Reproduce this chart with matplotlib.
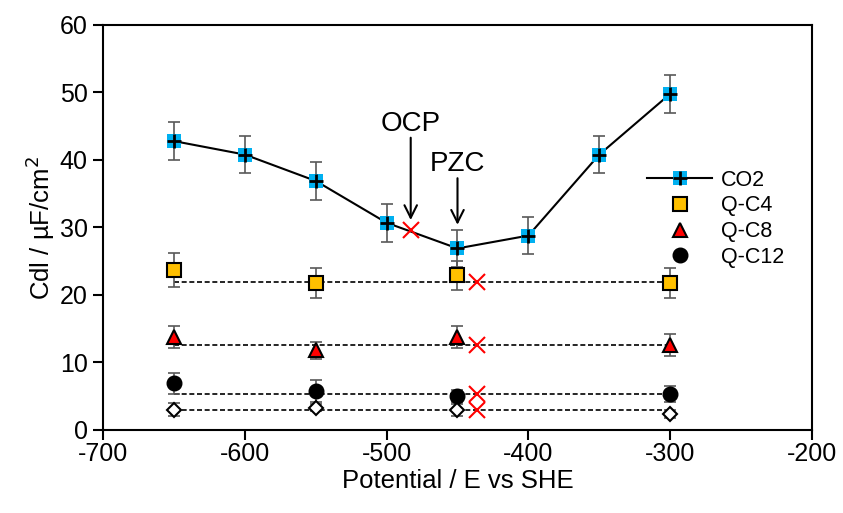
import numpy as np
import matplotlib
matplotlib.use('Agg')
import matplotlib.pyplot as plt
from matplotlib.lines import Line2D

plt.rcParams['font.family'] = ['Liberation Sans', 'DejaVu Sans']
plt.rcParams['axes.unicode_minus'] = False

# CO2 data
co2_x = [-650, -600, -550, -500, -450, -400, -350, -300]
co2_y = [42.8, 40.8, 36.9, 30.7, 26.9, 28.8, 40.8, 49.8]
co2_err = [2.8, 2.8, 2.8, 2.8, 2.8, 2.8, 2.8, 2.8]

# quaternary ammonium data
q_x = [-650, -550, -450, -300]
qc4_y = [23.7, 21.8, 22.9, 21.8]
qc4_err = [2.5, 2.2, 2.1, 2.2]
qc8_y = [13.8, 11.8, 13.8, 12.6]
qc8_err = [1.6, 1.3, 1.6, 1.6]
qc12_y = [6.9, 5.8, 5.0, 5.3]
qc12_err = [1.5, 1.6, 0.9, 1.2]
open_y = [3.0, 3.3, 3.0, 2.4]
open_err = [1.0, 0.5, 0.9, 0.6]

# averages (dashed lines) and PZC crosses
avg_x = [-650, -300]
avg_levels = [21.9, 12.6, 5.4, 3.0]
pzc_cross_x = -436
ocp_x, ocp_y = -483, 29.7

fig = plt.figure(figsize=(8.43, 5.13), dpi=100)
ax = fig.add_axes([0.1222, 0.1618, 0.841, 0.7895])

ecol = '#595959'
ekw = dict(ecolor=ecol, elinewidth=1.2, capsize=4.5, capthick=1.2, zorder=3)

# dashed average lines
for lev in avg_levels:
    ax.plot(avg_x, [lev, lev], color='black', ls=(0, (3, 1.6)), lw=1.2, zorder=2)

# crosses
ax.plot(ocp_x, ocp_y, 'x', color='red', ms=12, mew=1.5, zorder=6)
for lev in avg_levels:
    ax.plot(pzc_cross_x, lev, 'x', color='red', ms=12, mew=1.5, zorder=6)

# CO2
ax.errorbar(co2_x, co2_y, yerr=co2_err, fmt='none', **ekw)
ax.plot(co2_x, co2_y, color='black', lw=1.5, zorder=4)
ax.plot(co2_x, co2_y, 's', color='#00B0F0', ms=10, mew=0, zorder=5)
ax.plot(co2_x, co2_y, '+', color='black', ms=10, mew=2, zorder=6)

# Q series
ax.errorbar(q_x, qc4_y, yerr=qc4_err, fmt='none', **ekw)
ax.plot(q_x, qc4_y, 's', mfc='#FFC000', mec='black', mew=1.5, ms=9.5, ls='none', zorder=5)
ax.errorbar(q_x, qc8_y, yerr=qc8_err, fmt='none', **ekw)
ax.plot(q_x, qc8_y, '^', mfc='red', mec='black', mew=1.5, ms=9.5, ls='none', zorder=5)
ax.errorbar(q_x, qc12_y, yerr=qc12_err, fmt='none', **ekw)
ax.plot(q_x, qc12_y, 'o', color='black', ms=10.5, ls='none', zorder=5)
ax.errorbar(q_x, open_y, yerr=open_err, fmt='none', **ekw)
ax.plot(q_x, open_y, 'D', mfc='white', mec='black', mew=1.5, ms=7, ls='none', zorder=5)

# annotations
aprops = dict(arrowstyle='->,head_length=0.9,head_width=0.45', color='black', lw=1.5,
              shrinkA=0, shrinkB=0)
ax.text(ocp_x, 45.3, 'OCP', ha='center', va='center', fontsize=20)
ax.annotate('', xy=(ocp_x, 31.1), xytext=(ocp_x, 43.3), arrowprops=aprops)
ax.text(-450, 39.4, 'PZC', ha='center', va='center', fontsize=20)
ax.annotate('', xy=(-450, 30.4), xytext=(-450, 37.3), arrowprops=aprops)

# legend
h_co2 = (Line2D([], [], color='black', lw=1.5),
         Line2D([], [], marker='s', color='#00B0F0', ms=10, mew=0, ls='none'),
         Line2D([], [], marker='+', color='black', ms=10, mew=2, ls='none'))
h_c4 = Line2D([], [], marker='s', mfc='#FFC000', mec='black', mew=1.5, ms=9.5, ls='none')
h_c8 = Line2D([], [], marker='^', mfc='red', mec='black', mew=1.5, ms=9.5, ls='none')
h_c12 = Line2D([], [], marker='o', color='black', ms=10.5, ls='none')
ax.legend([h_co2, h_c4, h_c8, h_c12], ['CO2', 'Q-C4', 'Q-C8', 'Q-C12'],
          loc='upper left', bbox_to_anchor=(0.768, 0.643), frameon=False,
          fontsize=15.5, handlelength=3.0, labelspacing=0.22, handletextpad=0.4,
          borderpad=0, borderaxespad=0)

ax.set_xlim(-700, -200)
ax.set_ylim(0, 60)
ax.set_xticks(np.arange(-700, -199, 100))
ax.set_yticks(np.arange(0, 61, 10))
ax.tick_params(labelsize=18, width=1.5, length=7, direction='out')
ax.tick_params(axis='x', pad=2)
ax.tick_params(axis='y', pad=4)
for sp in ax.spines.values():
    sp.set_linewidth(1.5)
ax.set_xlabel('Potential / E vs SHE', fontsize=18.5, labelpad=2)
ax.set_ylabel('Cdl / µF/cm$^2$', fontsize=18.5, labelpad=2)

fig.savefig('out.png', dpi=100)
